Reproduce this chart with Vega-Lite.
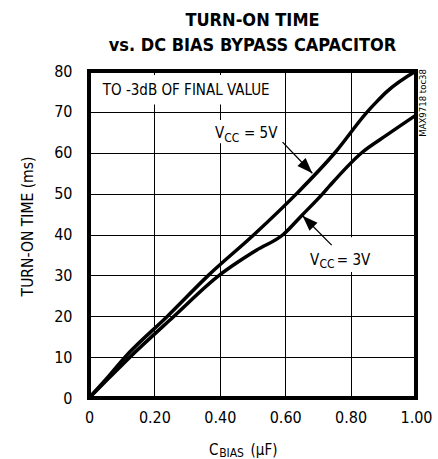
{
  "$schema": "https://vega.github.io/schema/vega-lite/v6.json",
  "autosize": "none",
  "width": 327,
  "height": 327,
  "padding": {"left": 89, "top": 71, "right": 22, "bottom": 61},
  "background": "white",
  "config": {
    "font": "DejaVu Sans Condensed, sans-serif",
    "view": {"stroke": "black", "strokeWidth": 4},
    "axis": {
      "labelFont": "DejaVu Sans Condensed, sans-serif",
      "titleFont": "DejaVu Sans Condensed, sans-serif",
      "labelColor": "black", "titleColor": "black",
      "labelFontSize": 16, "titleFontSize": 15.5, "titleFontWeight": "normal",
      "gridColor": "black", "gridWidth": 1, "gridOpacity": 1,
      "domain": false, "ticks": false, "tickSize": 0
    },
    "title": {
      "font": "DejaVu Sans Condensed, sans-serif",
      "fontSize": 18, "fontWeight": "bold", "color": "black",
      "anchor": "middle", "lineHeight": 25, "offset": 8, "frame": "group"
    }
  },
  "title": {"text": ["TURN-ON TIME", "vs. DC BIAS BYPASS CAPACITOR"]},
  "datasets": {
    "curves": [
      {"s": "5V", "c": 0, "t": 0}, {"s": "5V", "c": 0.05, "t": 4.4}, {"s": "5V", "c": 0.11, "t": 10},
      {"s": "5V", "c": 0.24, "t": 20}, {"s": "5V", "c": 0.365, "t": 30}, {"s": "5V", "c": 0.505, "t": 40},
      {"s": "5V", "c": 0.635, "t": 50}, {"s": "5V", "c": 0.752, "t": 60}, {"s": "5V", "c": 0.851, "t": 70},
      {"s": "5V", "c": 0.88, "t": 72.5}, {"s": "5V", "c": 0.91, "t": 74.9}, {"s": "5V", "c": 1.0, "t": 80},
      {"s": "3V", "c": 0, "t": 0}, {"s": "3V", "c": 0.06, "t": 4.8}, {"s": "3V", "c": 0.125, "t": 10},
      {"s": "3V", "c": 0.26, "t": 20}, {"s": "3V", "c": 0.398, "t": 30}, {"s": "3V", "c": 0.46, "t": 33.5},
      {"s": "3V", "c": 0.513, "t": 36.2}, {"s": "3V", "c": 0.594, "t": 40}, {"s": "3V", "c": 0.65, "t": 44.6},
      {"s": "3V", "c": 0.715, "t": 50}, {"s": "3V", "c": 0.737, "t": 52}, {"s": "3V", "c": 0.834, "t": 60},
      {"s": "3V", "c": 0.91, "t": 64.3}, {"s": "3V", "c": 1.0, "t": 69.2}
    ],
    "boxes": [
      {"x": 0.02, "x2": 0.57, "y": 71.8, "y2": 79},
      {"x": 0.375, "x2": 0.57, "y": 62.3, "y2": 68},
      {"x": 0.66, "x2": 0.87, "y": 30.8, "y2": 39.3}
    ],
    "shafts": [
      {"x": 0.592, "y": 62.6, "x2": 0.683, "y2": 55.0},
      {"x": 0.742, "y": 37.4, "x2": 0.653, "y2": 44.6}
    ],
    "mainText": [
      {"x": 0.385, "y": 63.5, "t": "V"}, {"x": 0.474, "y": 63.5, "t": "= 5V"},
      {"x": 0.676, "y": 32.5, "t": "V"}, {"x": 0.758, "y": 32.5, "t": "= 3V"},
      {"x": 0.367, "y": -13.9, "t": "C"}, {"x": 0.494, "y": -13.9, "t": "(μF)"}
    ],
    "subText": [
      {"x": 0.4135, "y": 62.7, "t": "CC"},
      {"x": 0.705, "y": 31.7, "t": "CC"},
      {"x": 0.398, "y": -14.5, "t": "BIAS"}
    ]
  },
  "layer": [
    {
      "data": {"name": "boxes"},
      "mark": {"type": "rect", "fill": "white", "stroke": null},
      "encoding": {
        "x": {"field": "x", "type": "quantitative"},
        "x2": {"field": "x2"},
        "y": {"field": "y", "type": "quantitative"},
        "y2": {"field": "y2"}
      }
    },
    {
      "data": {"name": "curves"},
      "mark": {"type": "line", "color": "black", "strokeWidth": 3.5, "interpolate": "monotone", "clip": false},
      "encoding": {
        "x": {
          "field": "c", "type": "quantitative",
          "scale": {"domain": [0, 1], "nice": false, "zero": false},
          "axis": {
            "values": [0, 0.2, 0.4, 0.6, 0.8, 1.0],
            "labelExpr": "datum.value == 0 ? '0' : format(datum.value, '.2f')",
            "labelPadding": 11, "labelFlush": false, "title": null
          }
        },
        "y": {
          "field": "t", "type": "quantitative",
          "scale": {"domain": [0, 80], "nice": false},
          "axis": {
            "values": [0, 10, 20, 30, 40, 50, 60, 70, 80],
            "labelPadding": 17,
            "title": "TURN-ON TIME (ms)",
            "titleX": -57, "titleY": 155, "titleAngle": -90,
            "titleBaseline": "alphabetic", "titleAlign": "center"
          }
        },
        "detail": {"field": "s"}
      }
    },
    {
      "data": {"name": "shafts"},
      "mark": {"type": "rule", "color": "black", "strokeWidth": 1.3},
      "encoding": {
        "x": {"field": "x", "type": "quantitative"},
        "y": {"field": "y", "type": "quantitative"},
        "x2": {"field": "x2"},
        "y2": {"field": "y2"}
      }
    },
    {
      "data": {"values": [{"x": 0.683, "y": 55.0}]},
      "mark": {"type": "point", "shape": "M0,0L-0.4,1.1L0.4,1.1Z", "filled": true, "fill": "black", "stroke": null, "opacity": 1, "size": 800, "angle": 136},
      "encoding": {
        "x": {"field": "x", "type": "quantitative"},
        "y": {"field": "y", "type": "quantitative"}
      }
    },
    {
      "data": {"values": [{"x": 0.653, "y": 44.6}]},
      "mark": {"type": "point", "shape": "M0,0L-0.4,1.1L0.4,1.1Z", "filled": true, "fill": "black", "stroke": null, "opacity": 1, "size": 800, "angle": 315},
      "encoding": {
        "x": {"field": "x", "type": "quantitative"},
        "y": {"field": "y", "type": "quantitative"}
      }
    },
    {
      "data": {"values": [{"x": 0.042, "y": 74.1, "t": "TO -3dB OF FINAL VALUE"}]},
      "mark": {"type": "text", "align": "left", "baseline": "alphabetic", "fontSize": 15, "color": "black"},
      "encoding": {
        "x": {"field": "x", "type": "quantitative"},
        "y": {"field": "y", "type": "quantitative"},
        "text": {"field": "t"}
      }
    },
    {
      "data": {"name": "mainText"},
      "mark": {"type": "text", "align": "left", "baseline": "alphabetic", "fontSize": 15, "color": "black"},
      "encoding": {
        "x": {"field": "x", "type": "quantitative"},
        "y": {"field": "y", "type": "quantitative"},
        "text": {"field": "t"}
      }
    },
    {
      "data": {"name": "subText"},
      "mark": {"type": "text", "align": "left", "baseline": "alphabetic", "fontSize": 12, "color": "black"},
      "encoding": {
        "x": {"field": "x", "type": "quantitative"},
        "y": {"field": "y", "type": "quantitative"},
        "text": {"field": "t"}
      }
    },
    {
      "data": {"values": [{"x": 1.021, "y": 72.2, "t": "MAX9718 toc38"}]},
      "mark": {"type": "text", "align": "center", "baseline": "middle", "fontSize": 9.5, "angle": 270, "color": "black"},
      "encoding": {
        "x": {"field": "x", "type": "quantitative"},
        "y": {"field": "y", "type": "quantitative"},
        "text": {"field": "t"}
      }
    }
  ]
}
